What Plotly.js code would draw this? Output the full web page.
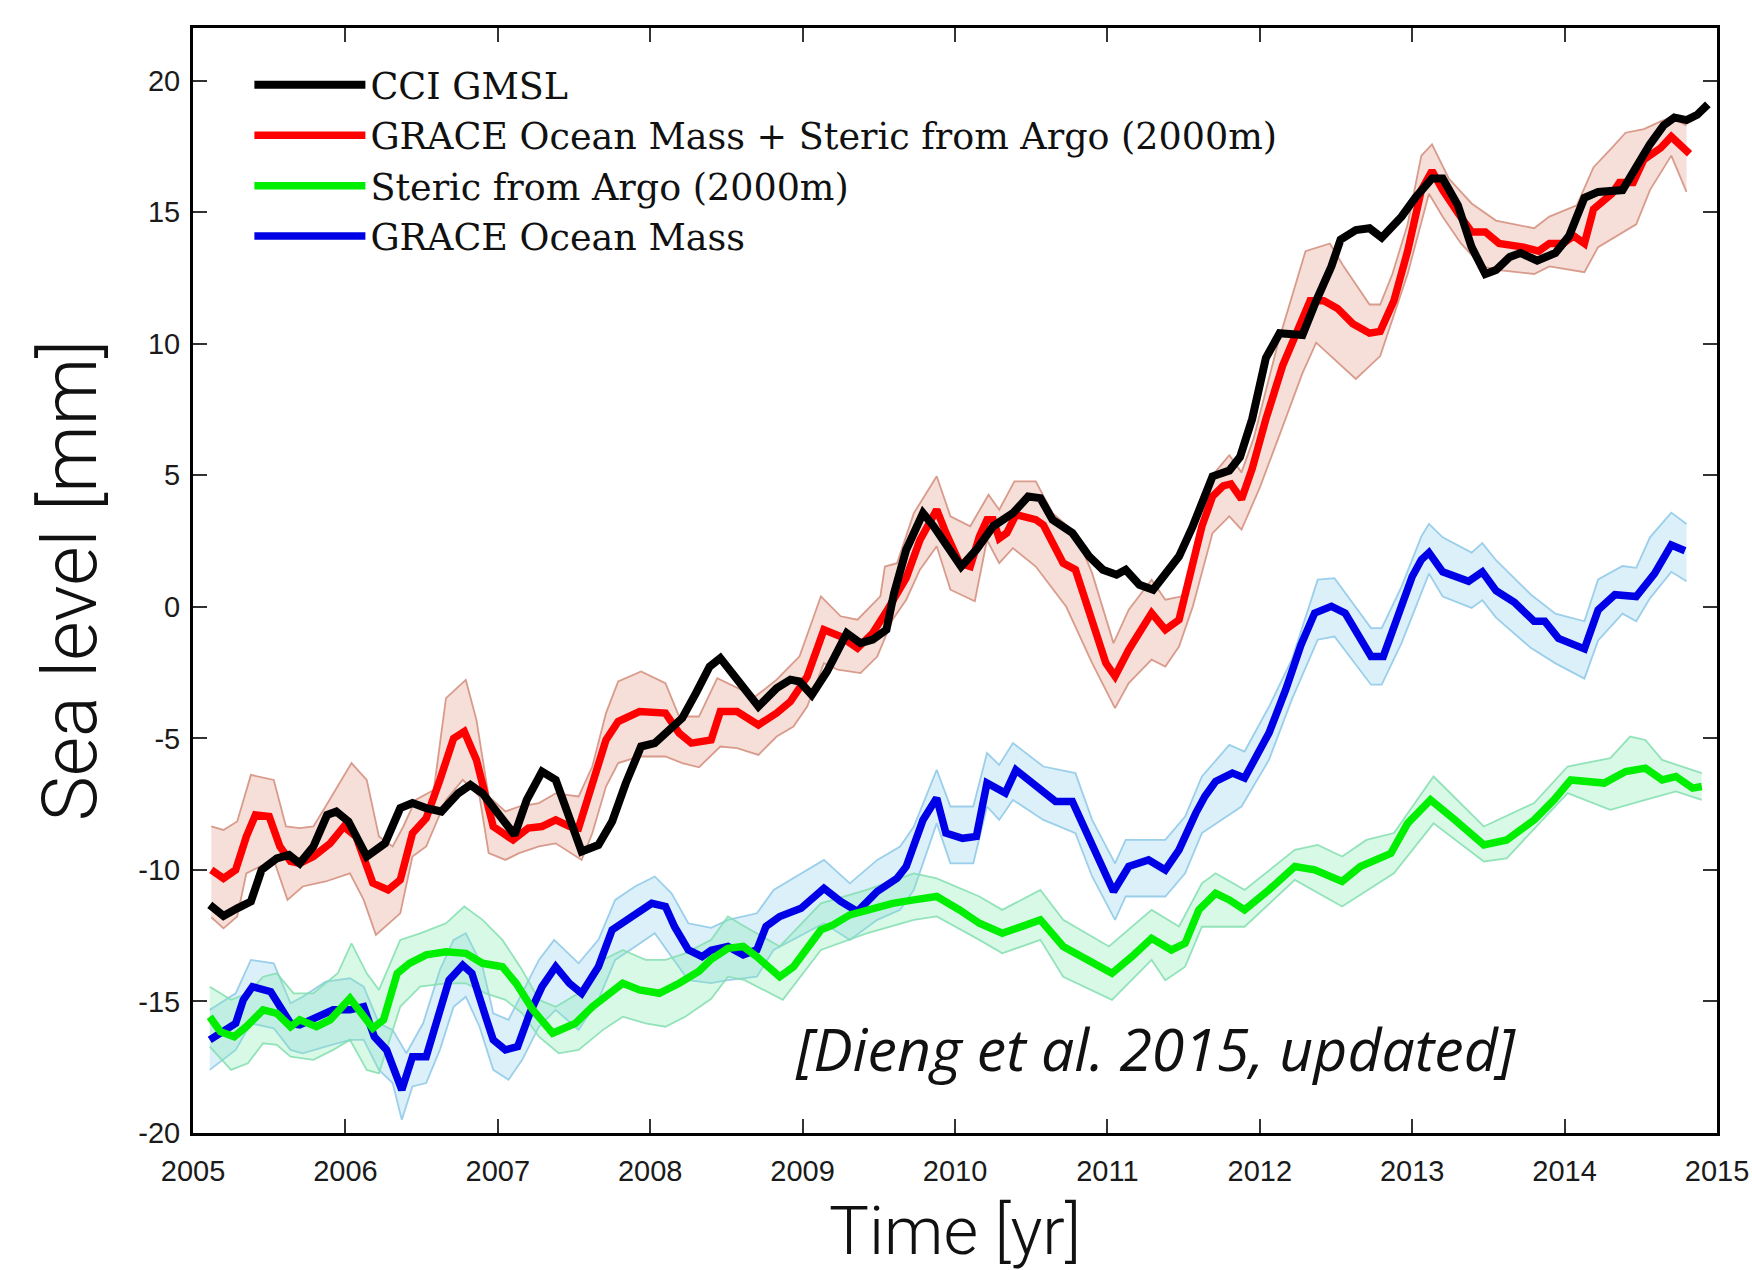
<!DOCTYPE html>
<html><head><meta charset="utf-8">
<script src="https://cdn.plot.ly/plotly-3.0.1.min.js"></script>
<style>html,body{margin:0;padding:0;background:#fff}</style>
</head><body><div id="chart" style="width:1752px;height:1270px"></div>
<script>
// ---------- DATA ----------
var xTickVals = [2005,2006,2007,2008,2009,2010,2011,2012,2013,2014,2015];
var xTickText = ['2005','2006','2007','2008','2009','2010','2011','2012','2013','2014','2015'];
var yTickVals = [-20,-15,-10,-5,0,5,10,15,20];
var yTickText = ['-20','-15','-10','-5','0','5','10','15','20'];

var seriesNames = ['CCI GMSL','GRACE Ocean Mass + Steric from Argo (2000m)','Steric from Argo (2000m)','GRACE Ocean Mass'];

// CCI GMSL (black)
var cciX = [2005.11,2005.20,2005.29,2005.38,2005.45,2005.55,2005.63,2005.70,2005.79,2005.88,2005.94,2006.02,2006.14,2006.26,2006.36,2006.44,2006.53,2006.63,2006.74,2006.82,2006.90,2007.01,2007.11,2007.19,2007.29,2007.38,2007.47,2007.55,2007.66,2007.75,2007.84,2007.94,2008.03,2008.12,2008.21,2008.30,2008.39,2008.46,2008.57,2008.71,2008.83,2008.92,2008.98,2009.06,2009.16,2009.25,2009.29,2009.38,2009.46,2009.55,2009.60,2009.68,2009.79,2009.86,2009.97,2010.04,2010.14,2010.25,2010.38,2010.48,2010.56,2010.64,2010.77,2010.88,2010.97,2011.06,2011.12,2011.21,2011.30,2011.38,2011.47,2011.56,2011.69,2011.80,2011.87,2011.95,2012.04,2012.13,2012.28,2012.37,2012.47,2012.53,2012.63,2012.72,2012.80,2012.93,2013.02,2013.13,2013.20,2013.30,2013.39,2013.48,2013.55,2013.64,2013.71,2013.82,2013.94,2014.03,2014.13,2014.22,2014.38,2014.47,2014.56,2014.65,2014.72,2014.80,2014.87,2014.94];
var cciY = [-11.33,-11.75,-11.46,-11.2,-10.0,-9.56,-9.43,-9.75,-9.11,-7.91,-7.78,-8.16,-9.49,-8.99,-7.65,-7.46,-7.65,-7.78,-7.09,-6.77,-7.09,-7.97,-8.67,-7.34,-6.26,-6.58,-8.1,-9.3,-9.05,-8.16,-6.70,-5.31,-5.18,-4.74,-4.23,-3.28,-2.27,-1.95,-2.77,-3.79,-3.09,-2.77,-2.84,-3.35,-2.46,-1.51,-1.0,-1.38,-1.25,-0.87,0.52,2.17,3.56,3.06,2.04,1.53,2.17,3.06,3.56,4.19,4.13,3.31,2.81,1.92,1.41,1.22,1.41,0.84,0.65,1.28,1.92,3.06,4.96,5.18,5.69,7.14,9.46,10.4,10.33,11.63,12.94,13.96,14.32,14.39,14.03,14.83,15.55,16.28,16.28,15.26,13.67,12.65,12.8,13.3,13.45,13.16,13.45,14.10,15.55,15.77,15.84,16.71,17.58,18.3,18.6,18.5,18.7,19.1];

// GRACE Ocean Mass + Steric (red)
var sumX = [2005.12,2005.20,2005.28,2005.35,2005.41,2005.50,2005.57,2005.64,2005.70,2005.79,2005.90,2005.99,2006.07,2006.18,2006.28,2006.36,2006.44,2006.53,2006.62,2006.71,2006.78,2006.86,2006.97,2007.10,2007.20,2007.29,2007.38,2007.47,2007.53,2007.62,2007.71,2007.79,2007.93,2008.10,2008.19,2008.27,2008.40,2008.46,2008.57,2008.71,2008.83,2008.92,2009.03,2009.14,2009.25,2009.36,2009.46,2009.55,2009.68,2009.77,2009.88,2009.94,2010.03,2010.10,2010.16,2010.21,2010.25,2010.29,2010.34,2010.40,2010.53,2010.58,2010.71,2010.79,2010.90,2010.99,2011.05,2011.14,2011.29,2011.38,2011.47,2011.54,2011.62,2011.69,2011.76,2011.81,2011.88,2011.95,2012.04,2012.15,2012.24,2012.33,2012.42,2012.51,2012.61,2012.72,2012.79,2012.88,2012.97,2013.06,2013.13,2013.20,2013.30,2013.39,2013.48,2013.57,2013.73,2013.83,2013.90,2013.99,2014.06,2014.13,2014.19,2014.31,2014.36,2014.45,2014.52,2014.63,2014.70,2014.82];
var sumY = [-10.0,-10.32,-10.0,-8.73,-7.91,-7.97,-9.11,-9.68,-9.75,-9.49,-8.99,-8.35,-8.73,-10.5,-10.76,-10.38,-8.61,-8.04,-6.58,-5.0,-4.74,-5.82,-8.35,-8.86,-8.41,-8.35,-8.1,-8.35,-8.41,-6.70,-5.06,-4.36,-3.98,-4.04,-4.80,-5.18,-5.06,-3.98,-3.98,-4.49,-4.04,-3.6,-2.65,-0.87,-1.13,-1.57,-1.0,-0.18,1.1,2.54,3.69,2.81,1.66,1.53,2.67,3.31,3.31,2.60,2.81,3.50,3.31,3.11,1.66,1.41,-0.49,-2.14,-2.64,-1.63,-0.24,-0.87,-0.49,1.28,3.06,4.2,4.6,4.67,4.09,5.25,7.14,9.17,10.33,11.63,11.63,11.34,10.76,10.4,10.47,11.63,13.52,15.84,16.57,15.84,14.97,14.25,14.25,13.81,13.67,13.52,13.81,13.81,14.1,13.81,15.12,15.7,16.13,16.13,17.0,17.44,17.87,17.22];
var sumHiX = [2005.12,2005.20,2005.29,2005.38,2005.53,2005.61,2005.70,2005.79,2005.87,2006.04,2006.14,2006.22,2006.31,2006.38,2006.46,2006.58,2006.66,2006.79,2006.86,2006.94,2007.05,2007.14,2007.27,2007.38,2007.53,2007.62,2007.71,2007.79,2007.94,2008.10,2008.19,2008.32,2008.44,2008.60,2008.69,2008.83,2008.98,2009.12,2009.25,2009.36,2009.51,2009.54,2009.62,2009.73,2009.88,2009.97,2010.10,2010.22,2010.29,2010.39,2010.53,2010.64,2010.79,2010.90,2011.04,2011.14,2011.29,2011.38,2011.49,2011.56,2011.69,2011.80,2011.88,2011.96,2012.12,2012.30,2012.46,2012.55,2012.72,2012.79,2012.87,2012.97,2013.06,2013.13,2013.24,2013.39,2013.55,2013.80,2013.90,2014.08,2014.19,2014.31,2014.40,2014.52,2014.63,2014.70,2014.80];
var sumHi = [-8.35,-8.48,-8.16,-6.39,-6.58,-8.35,-8.41,-8.35,-7.59,-5.94,-6.58,-8.73,-9.11,-8.35,-7.34,-6.96,-3.47,-2.78,-4.30,-7.21,-7.78,-7.59,-7.46,-7.09,-7.21,-6.07,-4.04,-2.84,-2.46,-2.90,-4.17,-4.17,-2.71,-3.15,-3.41,-2.77,-1.88,0.40,-0.36,-0.49,0.40,1.53,1.66,3.56,4.96,3.44,3.06,4.26,3.69,4.77,4.77,3.56,2.81,1.28,-1.38,-0.11,1.03,0.27,0.40,1.66,5.0,5.76,5.11,6.41,10.04,13.52,13.81,12.94,11.49,11.49,12.65,14.54,17.15,17.58,16.28,15.33,14.68,14.39,14.83,15.26,16.71,17.44,18.02,18.16,18.45,18.6,18.3];
var sumLoX = [2005.12,2005.20,2005.29,2005.35,2005.53,2005.62,2005.72,2005.87,2006.03,2006.12,2006.20,2006.36,2006.44,2006.53,2006.66,2006.77,2006.88,2006.94,2007.05,2007.14,2007.27,2007.38,2007.55,2007.62,2007.71,2007.79,2007.93,2008.10,2008.21,2008.32,2008.46,2008.57,2008.71,2008.83,2008.94,2009.03,2009.14,2009.23,2009.38,2009.49,2009.59,2009.68,2009.77,2009.88,2009.97,2010.13,2010.21,2010.29,2010.38,2010.53,2010.73,2010.90,2011.05,2011.14,2011.29,2011.38,2011.47,2011.56,2011.69,2011.80,2011.88,2012.00,2012.15,2012.28,2012.37,2012.51,2012.63,2012.79,2012.88,2012.97,2013.11,2013.20,2013.32,2013.46,2013.57,2013.80,2013.90,2014.13,2014.22,2014.47,2014.56,2014.70,2014.80];
var sumLo = [-11.8,-12.22,-11.77,-10.13,-9.62,-11.14,-10.63,-10.44,-10.13,-11.14,-12.47,-11.65,-9.49,-9.11,-7.34,-6.58,-7.21,-9.36,-9.62,-9.36,-9.11,-8.99,-9.62,-8.61,-6.83,-5.94,-5.69,-5.69,-5.94,-6.1,-5.31,-5.37,-5.63,-4.93,-4.55,-3.79,-2.14,-2.39,-2.52,-1.89,-0.49,0.27,1.41,2.30,0.65,0.21,2.54,1.66,2.23,1.53,0.0,-2.14,-3.85,-2.90,-2.01,-2.27,-1.51,0.0,2.8,3.44,2.93,4.53,6.85,8.88,10.04,9.31,8.66,9.53,11.05,12.65,15.7,14.83,13.81,12.94,12.8,12.65,12.94,12.72,13.67,14.54,15.84,17.15,15.77];

// Steric from Argo (green)
var stX = [2005.11,2005.18,2005.27,2005.35,2005.46,2005.55,2005.64,2005.70,2005.81,2005.90,2006.03,2006.10,2006.18,2006.25,2006.34,2006.42,2006.53,2006.66,2006.79,2006.90,2007.03,2007.12,2007.23,2007.36,2007.51,2007.62,2007.71,2007.82,2007.93,2008.06,2008.19,2008.32,2008.40,2008.51,2008.61,2008.70,2008.85,2008.94,2009.12,2009.20,2009.31,2009.42,2009.59,2009.73,2009.88,2010.03,2010.16,2010.31,2010.44,2010.56,2010.71,2010.86,2011.03,2011.16,2011.29,2011.42,2011.51,2011.60,2011.71,2011.80,2011.90,2012.06,2012.23,2012.36,2012.54,2012.66,2012.86,2012.97,2013.12,2013.28,2013.47,2013.62,2013.80,2013.93,2014.04,2014.26,2014.40,2014.53,2014.64,2014.73,2014.84,2014.90];
var stY = [-15.58,-16.15,-16.34,-15.96,-15.32,-15.45,-15.96,-15.7,-15.96,-15.7,-14.88,-15.45,-16.02,-15.7,-13.93,-13.55,-13.23,-13.11,-13.17,-13.55,-13.68,-14.31,-15.32,-16.21,-15.83,-15.2,-14.82,-14.31,-14.56,-14.69,-14.31,-13.85,-13.4,-12.98,-12.91,-13.3,-14.06,-13.68,-12.28,-12.09,-11.71,-11.52,-11.27,-11.14,-11.01,-11.52,-12.03,-12.41,-12.16,-11.9,-12.91,-13.42,-13.93,-13.3,-12.6,-13.04,-12.79,-11.52,-10.89,-11.14,-11.52,-10.76,-9.87,-10.0,-10.44,-9.87,-9.37,-8.23,-7.34,-8.1,-9.05,-8.86,-8.1,-7.34,-6.58,-6.7,-6.26,-6.13,-6.58,-6.45,-6.89,-6.83];
var stHiX = [2005.11,2005.25,2005.36,2005.46,2005.55,2005.66,2005.79,2005.95,2006.04,2006.14,2006.22,2006.36,2006.49,2006.66,2006.78,2006.90,2007.03,2007.16,2007.27,2007.38,2007.53,2007.69,2007.82,2007.97,2008.10,2008.23,2008.40,2008.51,2008.62,2008.85,2009.12,2009.42,2009.73,2009.88,2010.16,2010.31,2010.56,2010.71,2011.01,2011.29,2011.47,2011.62,2011.71,2011.90,2012.23,2012.38,2012.54,2012.70,2012.88,2013.14,2013.47,2013.80,2014.02,2014.30,2014.43,2014.53,2014.64,2014.90];
var stHi = [-14.44,-14.94,-14.69,-14.06,-13.93,-14.69,-14.69,-13.93,-12.79,-13.93,-14.56,-12.66,-12.41,-12.03,-11.39,-11.9,-12.66,-13.8,-14.94,-15.2,-14.69,-13.42,-13.04,-13.42,-13.42,-13.17,-12.66,-11.77,-12.15,-12.91,-11.27,-10.76,-10.13,-10.32,-11.01,-11.52,-10.76,-11.9,-12.91,-11.52,-12.15,-10.51,-10.13,-10.76,-9.24,-9.05,-9.49,-8.86,-8.6,-6.45,-8.35,-7.46,-6.07,-5.75,-4.93,-5.06,-5.82,-6.32];
var stLoX = [2005.11,2005.25,2005.36,2005.46,2005.55,2005.64,2005.79,2005.92,2006.03,2006.14,2006.22,2006.36,2006.49,2006.66,2006.79,2006.92,2007.05,2007.16,2007.27,2007.40,2007.53,2007.69,2007.82,2007.97,2008.10,2008.23,2008.40,2008.51,2008.62,2008.87,2009.12,2009.42,2009.73,2009.88,2010.16,2010.31,2010.56,2010.71,2011.03,2011.29,2011.38,2011.51,2011.62,2011.90,2012.23,2012.54,2012.88,2013.14,2013.47,2013.62,2014.02,2014.30,2014.53,2014.73,2014.90];
var stLo = [-16.72,-17.6,-17.35,-16.59,-16.65,-17.1,-17.22,-16.84,-16.46,-17.6,-17.73,-15.2,-14.44,-14.31,-14.31,-14.69,-14.94,-15.45,-16.34,-16.97,-16.84,-16.08,-15.58,-15.83,-15.96,-15.58,-14.9,-14.06,-14.19,-14.94,-13.04,-12.41,-11.9,-11.77,-12.66,-13.17,-12.66,-14.06,-14.94,-13.42,-14.19,-13.68,-12.16,-12.16,-10.38,-11.39,-10.13,-8.23,-9.68,-9.56,-7.08,-7.72,-7.34,-7.02,-7.34];

// GRACE Ocean Mass (blue)
var gomX = [2005.11,2005.20,2005.28,2005.33,2005.39,2005.51,2005.57,2005.64,2005.70,2005.79,2005.92,2006.03,2006.12,2006.19,2006.27,2006.37,2006.44,2006.53,2006.62,2006.68,2006.77,2006.83,2006.92,2006.97,2007.05,2007.13,2007.21,2007.29,2007.38,2007.47,2007.55,2007.66,2007.75,2007.82,2007.92,2008.01,2008.10,2008.16,2008.25,2008.34,2008.40,2008.51,2008.61,2008.70,2008.76,2008.85,2008.99,2009.14,2009.25,2009.36,2009.49,2009.62,2009.68,2009.79,2009.88,2009.94,2010.05,2010.14,2010.21,2010.28,2010.33,2010.40,2010.56,2010.66,2010.77,2010.90,2011.04,2011.14,2011.27,2011.38,2011.47,2011.58,2011.64,2011.71,2011.82,2011.90,2011.99,2012.06,2012.17,2012.27,2012.36,2012.47,2012.56,2012.67,2012.73,2012.81,2012.91,2013.00,2013.06,2013.11,2013.20,2013.37,2013.46,2013.55,2013.67,2013.80,2013.87,2013.96,2014.13,2014.22,2014.33,2014.47,2014.59,2014.70,2014.79];
var gomY = [-16.46,-16.15,-15.83,-14.94,-14.44,-14.63,-15.2,-15.83,-15.89,-15.64,-15.32,-15.32,-15.2,-16.34,-16.84,-18.36,-17.1,-17.1,-15.32,-14.19,-13.62,-13.93,-15.58,-16.46,-16.84,-16.72,-15.45,-14.44,-13.68,-14.31,-14.69,-13.68,-12.28,-12.03,-11.59,-11.27,-11.39,-12.16,-13.04,-13.30,-13.05,-12.91,-13.23,-13.04,-12.15,-11.77,-11.46,-10.7,-11.2,-11.58,-10.82,-10.32,-9.87,-8.1,-7.27,-8.6,-8.8,-8.73,-6.7,-6.89,-7.08,-6.2,-6.89,-7.4,-7.4,-9.11,-10.82,-9.87,-9.62,-10.0,-9.24,-7.84,-7.2,-6.64,-6.32,-6.51,-5.56,-4.80,-3.15,-1.45,-0.24,0.02,-0.24,-1.38,-1.89,-1.89,-0.37,1.15,1.79,2.06,1.33,0.97,1.33,0.61,0.17,-0.55,-0.55,-1.2,-1.6,-0.12,0.46,0.39,1.26,2.35,2.13];
var gomHiX = [2005.11,2005.28,2005.38,2005.53,2005.64,2005.72,2005.87,2006.03,2006.12,2006.22,2006.31,2006.40,2006.51,2006.62,2006.71,2006.79,2006.90,2006.97,2007.07,2007.16,2007.27,2007.37,2007.53,2007.66,2007.77,2007.90,2008.03,2008.14,2008.25,2008.40,2008.51,2008.70,2008.81,2009.14,2009.31,2009.49,2009.64,2009.73,2009.88,2009.97,2010.12,2010.21,2010.29,2010.38,2010.58,2010.79,2010.90,2011.05,2011.12,2011.38,2011.51,2011.62,2011.80,2011.90,2012.06,2012.21,2012.38,2012.49,2012.73,2012.80,2012.93,2013.06,2013.11,2013.20,2013.39,2013.46,2013.55,2013.78,2013.94,2014.13,2014.22,2014.38,2014.47,2014.56,2014.70,2014.80];
var gomHi = [-15.32,-14.69,-13.42,-13.55,-15.07,-14.82,-14.25,-14.12,-14.44,-15.83,-16.08,-16.97,-15.83,-13.8,-12.66,-12.41,-13.68,-15.45,-15.7,-14.69,-13.42,-12.66,-13.55,-12.66,-11.14,-10.63,-10.25,-10.89,-12.03,-12.2,-11.9,-11.65,-10.76,-9.62,-10.51,-9.62,-9.11,-8.35,-6.2,-7.59,-7.59,-5.56,-6.01,-5.18,-6.07,-6.32,-8.1,-9.75,-8.86,-8.86,-7.97,-6.45,-5.25,-5.5,-3.8,-2.01,1.03,1.09,-0.81,-0.81,0.77,2.68,3.15,2.64,2.06,2.42,1.77,0.46,-0.26,-0.55,1.04,1.55,1.48,2.64,3.58,3.15];
var gomLoX = [2005.11,2005.28,2005.38,2005.53,2005.64,2005.72,2005.87,2006.03,2006.12,2006.22,2006.31,2006.37,2006.44,2006.53,2006.62,2006.71,2006.79,2006.88,2006.97,2007.07,2007.16,2007.27,2007.38,2007.53,2007.66,2007.77,2007.90,2008.03,2008.14,2008.25,2008.40,2008.51,2008.70,2008.81,2009.14,2009.31,2009.49,2009.64,2009.73,2009.88,2009.97,2010.12,2010.21,2010.29,2010.38,2010.58,2010.79,2010.90,2011.05,2011.12,2011.38,2011.51,2011.62,2011.88,2012.06,2012.21,2012.38,2012.49,2012.73,2012.80,2012.93,2013.06,2013.11,2013.20,2013.39,2013.46,2013.55,2013.78,2013.94,2014.13,2014.22,2014.38,2014.47,2014.56,2014.70,2014.80];
var gomLo = [-17.6,-16.84,-15.83,-16.02,-16.84,-16.97,-16.72,-16.46,-16.46,-17.6,-18.1,-19.5,-18.23,-18.1,-16.84,-15.2,-14.82,-15.96,-17.6,-17.98,-17.22,-15.96,-15.32,-16.08,-14.94,-13.42,-12.92,-12.41,-13.3,-14.19,-14.3,-14.19,-14.06,-13.04,-12.03,-12.66,-11.9,-11.52,-10.76,-8.23,-9.75,-9.75,-7.59,-8.1,-7.34,-8.1,-8.6,-10.25,-11.9,-11.01,-11.01,-10.13,-8.6,-7.59,-5.82,-3.53,-1.25,-1.13,-2.96,-2.96,-1.38,0.52,1.26,0.39,-0.04,0.25,-0.41,-1.57,-2.15,-2.73,-1.28,-0.26,-0.55,0.32,1.33,0.97];

var citation = '[Dieng et al. 2015, updated]';

// ---------- STYLE ----------
var lineColors = ['#000000', '#ff0000', '#00ee00', '#0000e6'];
var bandFill = ['rgba(226,150,130,0.30)', 'rgba(130,235,175,0.30)', 'rgba(140,205,240,0.30)'];
var bandEdge = ['rgba(210,140,122,0.85)', 'rgba(130,222,175,0.85)', 'rgba(140,200,230,0.85)'];

function bandTraces(xHi, yHi, xLo, yLo, fill, edge) {
  var poly = {
    x: xHi.concat(xLo.slice().reverse()),
    y: yHi.concat(yLo.slice().reverse()),
    type: 'scatter', mode: 'lines', fill: 'toself', fillcolor: fill,
    line: {width: 0, color: fill}, showlegend: false, hoverinfo: 'skip'
  };
  var hi = {x: xHi, y: yHi, type: 'scatter', mode: 'lines', line: {width: 1.8, color: edge}, showlegend: false, hoverinfo: 'skip'};
  var lo = {x: xLo, y: yLo, type: 'scatter', mode: 'lines', line: {width: 1.8, color: edge}, showlegend: false, hoverinfo: 'skip'};
  return [poly, hi, lo];
}

var traces = [];
traces = traces.concat(bandTraces(sumHiX, sumHi, sumLoX, sumLo, bandFill[0], bandEdge[0]));
traces = traces.concat(bandTraces(gomHiX, gomHi, gomLoX, gomLo, bandFill[2], bandEdge[2]));
traces = traces.concat(bandTraces(stHiX, stHi, stLoX, stLo, bandFill[1], bandEdge[1]));

traces.push({x: gomX, y: gomY, name: seriesNames[3], type: 'scatter', mode: 'lines', line: {color: lineColors[3], width: 7.5}, legendrank: 4});
traces.push({x: stX, y: stY, name: seriesNames[2], type: 'scatter', mode: 'lines', line: {color: lineColors[2], width: 7.5}, legendrank: 3});
traces.push({x: sumX, y: sumY, name: seriesNames[1], type: 'scatter', mode: 'lines', line: {color: lineColors[1], width: 7.5}, legendrank: 2});
traces.push({x: cciX, y: cciY, name: seriesNames[0], type: 'scatter', mode: 'lines', line: {color: lineColors[0], width: 8}, legendrank: 1});

var tickFont = {family: 'Liberation Sans, Arial, sans-serif', size: 29, color: '#1a1a1a'};
var titleFontFamily = 'Roboto, Liberation Sans, sans-serif';

var layout = {
  width: 1752, height: 1270,
  margin: {l: 193, r: 35, t: 28, b: 137, autoexpand: false},
  paper_bgcolor: '#ffffff', plot_bgcolor: '#ffffff',
  showlegend: true,
  legend: {
    x: 0.037, y: 0.976, xanchor: 'left', yanchor: 'top',
    bgcolor: 'rgba(0,0,0,0)', borderwidth: 0,
    font: {family: 'DejaVu Serif, Liberation Serif, serif', size: 36.5, color: '#111'},
    itemwidth: 111, traceorder: 'normal', tracegroupgap: 0
  },
  xaxis: {
    range: [2005, 2015], tickmode: 'array', tickvals: xTickVals, ticktext: xTickText,
    ticks: 'inside', ticklen: 14, tickwidth: 2, tickcolor: '#333',
    showline: true, linecolor: '#000', linewidth: 3, mirror: 'ticks',
    showgrid: false, zeroline: false, tickfont: tickFont, ticklabelstandoff: 10,
    ticklabeloverflow: 'allow',
    title: {text: 'Time [yr]', font: {family: titleFontFamily, size: 67, color: '#111', weight: 300}, standoff: 28}
  },
  yaxis: {
    range: [-20, 22], tickmode: 'array', tickvals: yTickVals, ticktext: yTickText,
    ticks: 'inside', ticklen: 14, tickwidth: 2, tickcolor: '#333',
    showline: true, linecolor: '#000', linewidth: 3, mirror: 'ticks',
    showgrid: false, zeroline: false, tickfont: tickFont, ticklabelstandoff: 4,
    title: {text: 'Sea level [mm]', font: {family: titleFontFamily, size: 76, color: '#111', weight: 300}, standoff: 17}
  },
  annotations: [{
    text: citation, xref: 'paper', yref: 'paper', x: 0.6316, y: 0.0769,
    xanchor: 'center', yanchor: 'middle', showarrow: false,
    font: {family: 'Open Sans, Liberation Sans, sans-serif', size: 59, color: '#111', style: 'italic'}
  }]
};

Plotly.newPlot('chart', traces, layout, {displayModeBar: false, staticPlot: true});
</script>
</body></html>
